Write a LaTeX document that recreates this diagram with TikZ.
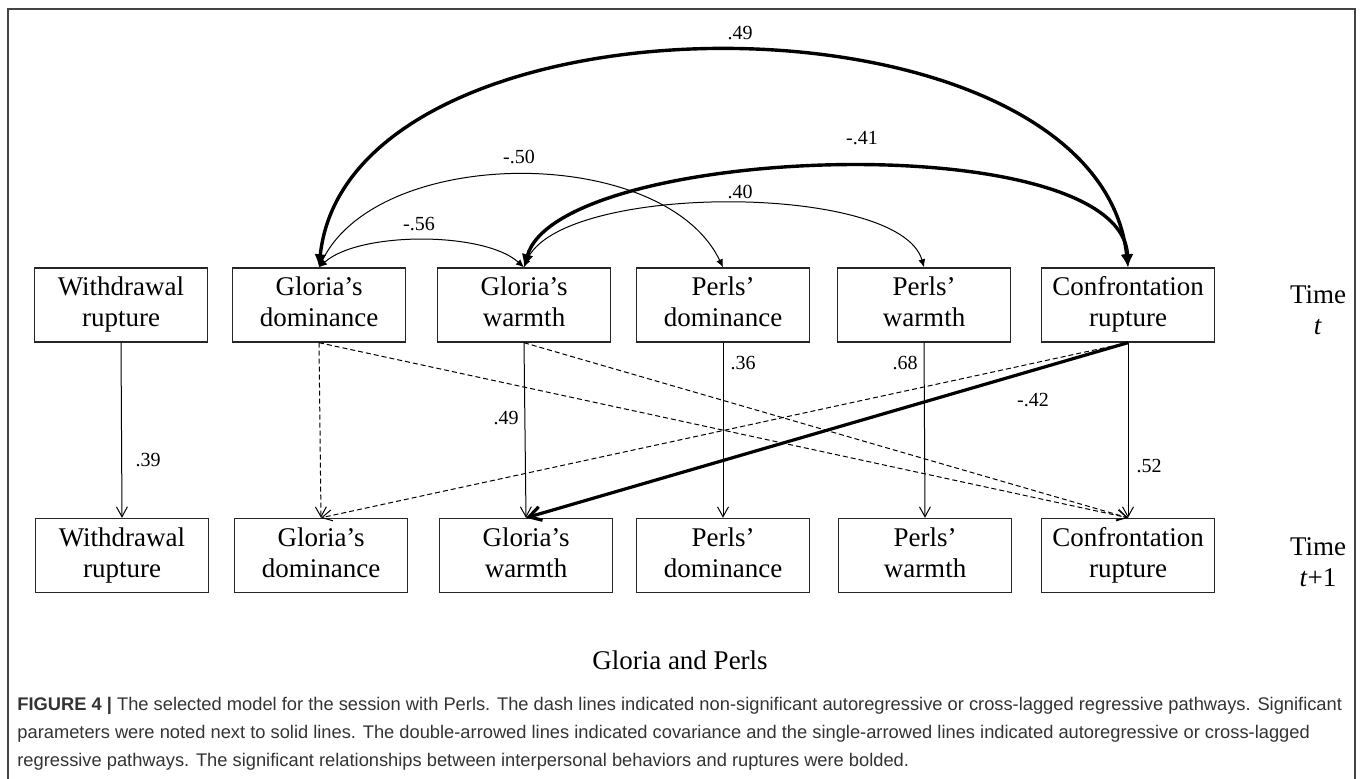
\documentclass[tikz,border=0pt]{standalone}
\usepackage{fontspec}
\setmainfont{Liberation Serif}
\newfontfamily\capfont{Liberation Sans}
\usetikzlibrary{arrows.meta}
\definecolor{framegray}{HTML}{444444}
\definecolor{capgray}{HTML}{333333}
\newcommand{\twoline}[2]{\strut #1\\\strut #2}
\begin{document}
\begin{tikzpicture}[x=0.5pt,y=-0.5pt,
  box/.style={draw=black!85, line width=0.7pt, minimum width=86.5pt, minimum height=37pt,
              inner sep=0pt, align=center, font=\fontsize{13.5}{15.5}\selectfont},
  lbl/.style={font=\fontsize{10}{12}\selectfont, inner sep=0pt},
  timelbl/.style={font=\fontsize{13.5}{15.5}\selectfont, inner sep=0pt, align=center},
  thinl/.style={line width=0.5pt},
  thickl/.style={line width=1.7pt},
  reg/.style={thinl, -{Straight Barb[length=5pt,width=5.5pt]}},
  ns/.style={reg, dash pattern=on 2.5pt off 1.5pt},
  sigthick/.style={line width=1.6pt, -{Straight Barb[length=6pt,width=7pt,line width=1.6pt]}},
  covthin/.style={thinl, {Latex[length=4pt,width=3.5pt]}-{Latex[length=4pt,width=3.5pt]}},
  covthick/.style={thickl, {Latex[length=6.5pt,width=6pt]}-{Latex[length=6.5pt,width=6pt]}},
  capline/.style={anchor=base west, inner sep=0pt, text=capgray, font=\capfont\fontsize{9.15}{11}\selectfont}
]
\useasboundingbox (0,0) rectangle (1360,779);
% frame
\draw[framegray, line width=1pt] (8,790) -- (8,9) -- (1355,9) -- (1355,790);

% top row (time t)
\node[box] (t1) at (121,305) {\twoline{Withdrawal}{rupture}};
\node[box] (t2) at (319,305) {\twoline{Gloria’s}{dominance}};
\node[box] (t3) at (524,305) {\twoline{Gloria’s}{warmth}};
\node[box] (t4) at (723,305) {\twoline{Perls’}{dominance}};
\node[box] (t5) at (924,305) {\twoline{Perls’}{warmth}};
\node[box] (t6) at (1128,305) {\twoline{Confrontation}{rupture}};
\node[timelbl] (tt) at (1318,313) {\twoline{Time}{\textit{t}}};

% bottom row (time t+1)
\node[box] (b1) at (122,555.5) {\twoline{Withdrawal}{rupture}};
\node[box] (b2) at (321,555.5) {\twoline{Gloria’s}{dominance}};
\node[box] (b3) at (526,555.5) {\twoline{Gloria’s}{warmth}};
\node[box] (b4) at (723,555.5) {\twoline{Perls’}{dominance}};
\node[box] (b5) at (925,555.5) {\twoline{Perls’}{warmth}};
\node[box] (b6) at (1128,555.5) {\twoline{Confrontation}{rupture}};
\node[timelbl] (tb) at (1318,565) {\twoline{Time}{\textit{t}+1}};

% covariances
\draw[covthick] (t2.north) .. controls +(30,-288) and +(-31,-288) .. (t6.north);
\draw[covthick] (t3.north) .. controls +(35,-123) and +(-6,-143) .. (t6.north);
\draw[covthin] (t2.north) .. controls +(60,-123) and +(-59,-123) .. (t4.north);
\draw[covthin] (t2.north) .. controls +(40,-36) and +(-40,-36) .. (t3.north);
\draw[covthin] (t3.north) .. controls +(35,-85) and +(-24,-85) .. (t5.north);

\node[lbl] (l49) at (740,33) {.49};
\node[lbl] (l41) at (862,138) {-.41};
\node[lbl] (l50) at (519,157) {-.50};
\node[lbl] (l40) at (740,192) {.40};
\node[lbl] (l56) at (419,224) {-.56};

% autoregressive paths
\draw[reg] (t1.south) -- (b1.north);
\draw[ns]  (t2.south) -- (b2.north);
\draw[reg] (t3.south) -- (b3.north);
\draw[reg] (t4.south) -- (b4.north);
\draw[reg] (t5.south) -- (b5.north);
\draw[reg] (t6.south) -- (b6.north);

% cross-lagged paths
\draw[ns] (t2.south) -- (b6.north);
\draw[ns] (t3.south) -- (b6.north);
\draw[ns] (t6.south) -- (b2.north);
\draw[sigthick] (t6.south) -- (b3.north);

\node[lbl] (l39) at (148,460) {.39};
\node[lbl] (l49b) at (506,418) {.49};
\node[lbl] (l36) at (743,363) {.36};
\node[lbl] (l68) at (905,363) {.68};
\node[lbl] (l42) at (1033,400) {-.42};
\node[lbl] (l52) at (1149,466) {.52};

% title
\node[font=\fontsize{13.5}{16}\selectfont, inner sep=0pt] (title) at (680,660) {Gloria and Perls};

% caption
\node[capline] (c1) at (17,711) {\textbf{FIGURE 4} \textbf{|} The selected model for the session with Perls. The dash lines indicated non-significant autoregressive or cross-lagged regressive pathways. Significant};
\node[capline] (c2) at (17,739) {parameters were noted next to solid lines. The double-arrowed lines indicated covariance and the single-arrowed lines indicated autoregressive or cross-lagged};
\node[capline] (c3) at (17,767) {regressive pathways. The significant relationships between interpersonal behaviors and ruptures were bolded.};
\end{tikzpicture}
\end{document}
